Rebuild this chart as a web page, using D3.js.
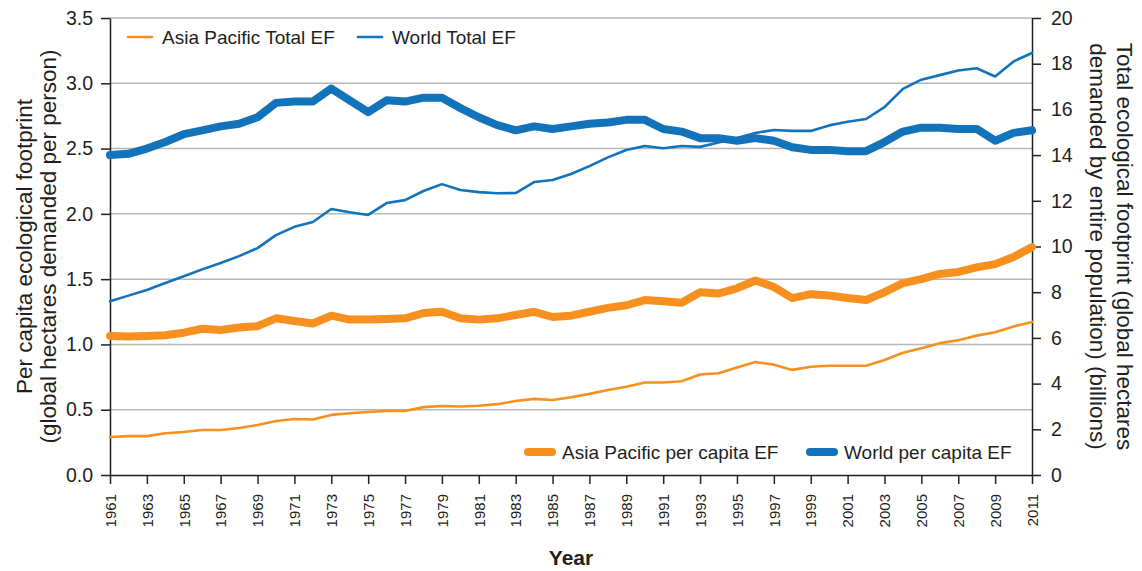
<!DOCTYPE html>
<html>
<head>
<meta charset="utf-8">
<script src="https://cdn.jsdelivr.net/npm/d3@7"></script>
<style>
  body { margin: 0; background: #fff; }
  text { font-family: "Liberation Sans", Arial, sans-serif; fill: #231f20; }
  .grid line { stroke: #b7b7b9; stroke-width: 1.5; }
  .axis path, .axis line { stroke: #231f20; stroke-width: 1.5; }
</style>
</head>
<body>
<script>
var years = d3.range(1961, 2012);

// per capita, global hectares per person (left axis)
var worldPerCapita = [2.45, 2.46, 2.50, 2.55, 2.61, 2.64, 2.67, 2.69, 2.74, 2.85,
  2.86, 2.86, 2.96, 2.87, 2.78, 2.87, 2.86, 2.89, 2.89, 2.81,
  2.74, 2.68, 2.64, 2.67, 2.65, 2.67, 2.69, 2.70, 2.72, 2.72,
  2.65, 2.63, 2.58, 2.58, 2.56, 2.58, 2.56, 2.51, 2.49, 2.49,
  2.48, 2.48, 2.55, 2.63, 2.66, 2.66, 2.65, 2.65, 2.56, 2.62, 2.64];
var asiaPerCapita = [1.065, 1.06, 1.065, 1.07, 1.09, 1.12, 1.11, 1.13, 1.14, 1.20,
  1.18, 1.16, 1.22, 1.19, 1.19, 1.195, 1.20, 1.24, 1.25, 1.20,
  1.19, 1.20, 1.225, 1.25, 1.21, 1.22, 1.25, 1.28, 1.30, 1.34,
  1.33, 1.32, 1.40, 1.39, 1.43, 1.49, 1.44, 1.355, 1.385, 1.375,
  1.355, 1.34, 1.40, 1.47, 1.50, 1.54, 1.555, 1.59, 1.615, 1.67, 1.745];

// totals, billion global hectares (right axis)
var worldTotal = [7.6, 7.85, 8.1, 8.4, 8.7, 9.0, 9.28, 9.58, 9.93, 10.5,
  10.86, 11.07, 11.64, 11.5, 11.38, 11.9, 12.03, 12.43, 12.73, 12.47,
  12.38, 12.33, 12.34, 12.82, 12.91, 13.17, 13.52, 13.9, 14.22, 14.4,
  14.3, 14.4, 14.36, 14.55, 14.75, 14.97, 15.1, 15.06, 15.06, 15.3,
  15.46, 15.58, 16.1, 16.9, 17.3, 17.5, 17.7, 17.8, 17.44, 18.1, 18.47];
var asiaTotal = [1.66, 1.7, 1.7, 1.83, 1.88, 1.97, 1.97, 2.06, 2.19, 2.36,
  2.45, 2.43, 2.63, 2.7, 2.76, 2.8, 2.8, 2.97, 3.02, 3.0,
  3.03, 3.1, 3.24, 3.33, 3.28, 3.4, 3.55, 3.72, 3.86, 4.05,
  4.05, 4.1, 4.4, 4.45, 4.7, 4.94, 4.83, 4.6, 4.74, 4.78,
  4.78, 4.78, 5.03, 5.35, 5.55, 5.77, 5.9, 6.1, 6.25, 6.5, 6.7];

var leftTicks = [0, 0.5, 1.0, 1.5, 2.0, 2.5, 3.0, 3.5];
var rightTicks = [0, 2, 4, 6, 8, 10, 12, 14, 16, 18, 20];
var yearTicks = years.filter(function(d) { return (d - 1961) % 2 === 0; });

var orange = "#f7901e", blue = "#1272ba";

var margin = {top: 18, right: 110, bottom: 96, left: 110},
    width = 1142 - margin.left - margin.right,
    height = 571 - margin.top - margin.bottom;

var x = d3.scaleLinear().domain([1961, 2011]).range([0, width]);
var yL = d3.scaleLinear().domain([0, 3.5]).range([height, 0]);
var yR = d3.scaleLinear().domain([0, 20]).range([height, 0]);

var svg = d3.select("body").append("svg")
    .attr("width", 1142)
    .attr("height", 571)
  .append("g")
    .attr("transform", "translate(" + margin.left + "," + margin.top + ")");

// gridlines
svg.append("g")
    .attr("class", "grid")
  .selectAll("line")
  .data(leftTicks.slice(1))
  .enter().append("line")
    .attr("x1", 0).attr("x2", width)
    .attr("y1", function(d) { return yL(d); })
    .attr("y2", function(d) { return yL(d); });

// axes
svg.append("g")
    .attr("class", "axis")
    .call(d3.axisLeft(yL).tickValues(leftTicks).tickFormat(d3.format(".1f")).tickSize(9).tickSizeOuter(0))
  .selectAll("text")
    .style("font-size", "19.5px")
    .attr("x", -17);

svg.append("g")
    .attr("class", "axis")
    .attr("transform", "translate(" + width + ",0)")
    .call(d3.axisRight(yR).tickValues(rightTicks).tickSize(9).tickSizeOuter(0))
  .selectAll("text")
    .style("font-size", "19.5px")
    .attr("x", 19);

svg.append("g")
    .attr("class", "axis")
    .attr("transform", "translate(0," + height + ")")
    .call(d3.axisBottom(x).tickValues(yearTicks).tickFormat(d3.format("d")).tickSize(9).tickSizeOuter(0))
  .selectAll("text")
    .style("font-size", "15px")
    .style("text-anchor", "end")
    .attr("transform", "rotate(-90)")
    .attr("x", -19)
    .attr("y", 0)
    .attr("dy", "0.35em");

// lines
var lineL = d3.line()
    .x(function(d, i) { return x(years[i]); })
    .y(function(d) { return yL(d); });
var lineR = d3.line()
    .x(function(d, i) { return x(years[i]); })
    .y(function(d) { return yR(d); });

var series = [
  {values: asiaTotal, line: lineR, color: orange, w: 2.6},
  {values: worldTotal, line: lineR, color: blue, w: 2.6},
  {values: asiaPerCapita, line: lineL, color: orange, w: 8},
  {values: worldPerCapita, line: lineL, color: blue, w: 8}
];

series.forEach(function(s) {
  svg.append("path")
      .datum(s.values)
      .attr("fill", "none")
      .attr("stroke", s.color)
      .attr("stroke-width", s.w)
      .attr("stroke-linejoin", "round")
      .attr("stroke-linecap", "round")
      .attr("d", s.line);
});

// legends
var legends = [
  {label: "Asia Pacific Total EF", color: orange, w: 2.6, x: 18, y: 19},
  {label: "World Total EF", color: blue, w: 2.6, x: 248, y: 19},
  {label: "Asia Pacific per capita EF", color: orange, w: 8, x: 418, y: 434},
  {label: "World per capita EF", color: blue, w: 8, x: 700, y: 434}
];

var leg = svg.selectAll(".legend")
    .data(legends)
  .enter().append("g")
    .attr("class", "legend")
    .attr("transform", function(d) { return "translate(" + d.x + "," + d.y + ")"; });

leg.append("line")
    .attr("x1", 0).attr("x2", 24)
    .attr("stroke", function(d) { return d.color; })
    .attr("stroke-width", function(d) { return d.w; })
    .attr("stroke-linecap", "round");

leg.append("text")
    .attr("x", 34)
    .attr("dy", "0.35em")
    .style("font-size", "19px")
    .text(function(d) { return d.label; });

// axis titles
var titleSize = "22.5px";
svg.append("text")
    .attr("transform", "translate(" + (-78) + "," + (height / 2) + ") rotate(-90)")
    .style("text-anchor", "middle")
    .style("font-size", titleSize)
    .text("Per capita ecological footprint");
svg.append("text")
    .attr("transform", "translate(" + (-54) + "," + (height / 2) + ") rotate(-90)")
    .style("text-anchor", "middle")
    .style("font-size", titleSize)
    .text("(global hectares demanded per person)");

svg.append("text")
    .attr("transform", "translate(" + (width + 85) + "," + (height / 2) + ") rotate(90)")
    .style("text-anchor", "middle")
    .style("font-size", titleSize)
    .text("Total ecological footprint (global hectares");
svg.append("text")
    .attr("transform", "translate(" + (width + 58) + "," + (height / 2) + ") rotate(90)")
    .style("text-anchor", "middle")
    .style("font-size", titleSize)
    .text("demanded by entire population) (billions)");

svg.append("text")
    .attr("x", x(1986))
    .attr("y", height + 90)
    .style("text-anchor", "middle")
    .style("font-size", "21px")
    .style("font-weight", "bold")
    .text("Year");
</script>
</body>
</html>
